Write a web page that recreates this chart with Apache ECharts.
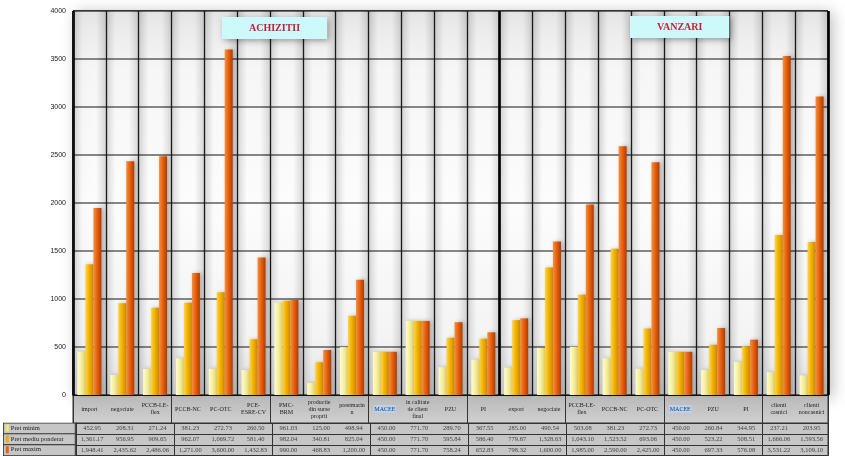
<!DOCTYPE html>
<html><head><meta charset="utf-8">
<script src="https://cdn.jsdelivr.net/npm/echarts@6/dist/echarts.min.js"></script>
<style>html,body{margin:0;padding:0;background:#fff}#c{width:845px;height:456px}</style>
</head><body><div id="c"></div>
<script>
var categories = ["import","negociate","PCCB-LE-\nflex","PCCB-NC","PC-OTC","PCE-\nESRE-CV","PMC-\nBRM","productie\ndin surse\nproprii","prestmarin\nn","MACEE","in calitate\nde client\nfinal","PZU","PI",
  "export","negociate","PCCB-LE-\nflex","PCCB-NC","PC-OTC","MACEE","PZU","PI","clienti\ncasnici","clienti\nnoncasnici"];
var seriesNames = ["Pret minim","Pret mediu ponderat","Pret maxim"];
var pretMinim = [452.95,208.31,271.24,381.23,272.73,260.50,961.03,125.00,498.94,450.00,771.70,289.70,367.55,
  285.00,490.54,503.08,381.23,272.73,450.00,260.84,344.95,237.21,203.95];
var pretMediu = [1361.17,956.95,909.65,962.07,1069.72,581.40,982.04,340.81,825.04,450.00,771.70,595.84,586.40,
  779.87,1328.63,1043.10,1523.52,693.06,450.00,523.22,508.51,1666.06,1593.56];
var pretMaxim = [1948.41,2435.62,2486.06,1271.00,3600.00,1432.83,990.00,468.83,1200.00,450.00,771.70,758.24,652.83,
  798.32,1600.00,1985.00,2590.00,2425.00,450.00,697.33,576.08,3531.22,3109.10];
var sectionTitles = ["ACHIZITII","VANZARI"];
var achizitiiCount = 13;

var allSeries = [pretMinim, pretMediu, pretMaxim];
var swatch = ["#f2ea70","#eab000","#e4620c"];
var barGrad = [
  ["#fffbd2","#f6f0a0","#e2d470"],
  ["#ffd548","#f2b200","#cf8a00"],
  ["#f59040","#e8620e","#b03a00"]
];
function fmt(v){return v.toLocaleString('en-US',{minimumFractionDigits:2,maximumFractionDigits:2});}
function lg(c){return {type:'linear',x:0,y:0,x2:1,y2:0,colorStops:[{offset:0,color:c[0]},{offset:0.45,color:c[1]},{offset:1,color:c[2]}]};}

var serif = "'Liberation Serif','DejaVu Serif',serif";
var L = 73, R = 17;

var chart = echarts.init(document.getElementById('c'));
var series = [];
allSeries.forEach(function(arr, k){
  series.push({
    name: seriesNames[k], type:'bar', xAxisIndex:0, yAxisIndex:0,
    data: arr, barWidth:8, barGap:'0%',
    itemStyle:{color: lg(barGrad[k]), shadowBlur:4, shadowColor:'rgba(0,0,0,0.25)', shadowOffsetX:2},
    z:3
  });
});
var tableData = [];
allSeries.forEach(function(arr, r){
  arr.forEach(function(v, i){ tableData.push([i, r, v]); });
});
series.push({
  type:'scatter', xAxisIndex:2, yAxisIndex:1, data: tableData,
  symbol:'rect', symbolSize:1, itemStyle:{color:'rgba(0,0,0,0)'}, silent:true,
  label:{show:true, position:'inside', fontFamily:serif, fontSize:6.5, color:'#222',
    formatter:function(p){return fmt(p.value[2]);}}
});

var rich = {
  a:{width:3,height:7,backgroundColor:swatch[0]},
  b:{width:3,height:7,backgroundColor:swatch[1]},
  c:{width:3,height:7,backgroundColor:swatch[2]},
  t:{fontFamily:serif,fontSize:6.5,color:'#222',padding:[0,0,0,2]}
};
var keys = ['a','b','c'];

var option = {
  animation:false,
  backgroundColor:'#ffffff',
  title: [
    {text:sectionTitles[0], left:222, top:17, padding:[6,27,6,27], backgroundColor:'#cdf9fb',
     shadowBlur:6, shadowColor:'rgba(0,0,0,0.35)', shadowOffsetX:2, shadowOffsetY:2,
     textStyle:{fontFamily:serif, fontSize:10, fontWeight:'bold', color:'#c4203c'}},
    {text:sectionTitles[1], left:630, top:16, padding:[6,27,6,27], backgroundColor:'#cdf9fb',
     shadowBlur:6, shadowColor:'rgba(0,0,0,0.35)', shadowOffsetX:2, shadowOffsetY:2,
     textStyle:{fontFamily:serif, fontSize:10, fontWeight:'bold', color:'#c4203c'}}
  ],
  grid: [
    {left:L, right:R, top:11, height:384, show:true, borderColor:'#111', borderWidth:1,
     shadowBlur:14, shadowColor:'rgba(0,0,0,0.25)', shadowOffsetX:4, shadowOffsetY:2,
     backgroundColor:{type:'linear',x:0,y:0,x2:0,y2:1,colorStops:[
       {offset:0,color:'#dcdcdc'},{offset:0.15,color:'#f2f2f2'},{offset:0.5,color:'#fbfbfb'},{offset:0.85,color:'#efefef'},{offset:1,color:'#d6d6d6'}]}},
    {left:L, right:R, top:423, height:33, show:true, borderColor:'#333', borderWidth:1,
     backgroundColor:'#c6c6c6'},
    {left:L, right:R, top:395, height:28, show:true, borderColor:'#333', borderWidth:1,
     backgroundColor:{type:'linear',x:0,y:0,x2:0,y2:1,colorStops:[{offset:0,color:'#b8b8b8'},{offset:1,color:'#d0d0d0'}]}}
  ],
  xAxis: [
    {type:'category', gridIndex:0, data:categories,
     axisLine:{show:true, lineStyle:{color:'#111', width:1.2}}, axisTick:{show:false},
     splitLine:{show:true, lineStyle:{color:'#1a1a1a', width:1.3}},
     splitArea:{show:true, areaStyle:{color:[{type:'linear',x:0,y:0,x2:1,y2:0,colorStops:[
        {offset:0,color:'rgba(150,150,150,0.4)'},{offset:0.3,color:'rgba(255,255,255,0.3)'},
        {offset:0.7,color:'rgba(255,255,255,0.3)'},{offset:1,color:'rgba(150,150,150,0.35)'}]}]}},
     axisLabel:{show:true, interval:0, margin:14, verticalAlign:'middle', fontFamily:serif, fontSize:6, lineHeight:7, color:'#222',
       formatter:function(v){return v==='MACEE' ? '{m|MACEE}' : v;},
       rich:{m:{fontFamily:serif,fontSize:6,color:'#1c3c8c',backgroundColor:'#bcd2e6',padding:[1,1]}}}},
    {type:'value', gridIndex:0, min:0, max:categories.length, interval:achizitiiCount,
     axisLine:{show:false}, axisTick:{show:false}, axisLabel:{show:false},
     splitLine:{show:true, lineStyle:{color:'#000', width:2.6}}},
    {type:'category', gridIndex:1, data:categories,
     axisLine:{show:true, lineStyle:{color:'#333'}}, axisTick:{show:false}, axisLabel:{show:false},
     splitLine:{show:true, lineStyle:{color:'#333', width:1}}},
    {type:'category', gridIndex:2, data:categories,
     axisLine:{show:false}, axisTick:{show:false}, axisLabel:{show:false},
     splitLine:{show:true, lineStyle:{color:'#333', width:1}}}
  ],
  yAxis: [
    {type:'value', gridIndex:0, min:0, max:4000, interval:500,
     axisLine:{show:true, lineStyle:{color:'#111', width:1.2}}, axisTick:{show:false},
     splitLine:{show:true, lineStyle:{color:'#1a1a1a', width:1.5}},
     axisLabel:{margin:7, fontFamily:"'Liberation Sans Narrow','Liberation Sans',Arial,sans-serif", fontSize:7, color:'#222',
       formatter:function(v){return String(v);}}},
    {type:'category', gridIndex:1, data:seriesNames, inverse:true,
     axisLine:{show:true, lineStyle:{color:'#333'}}, axisTick:{show:false},
     splitLine:{show:true, lineStyle:{color:'#333', width:1}},
     axisLabel:{interval:0, hideOverlap:false, align:'left', margin:72, width:67, height:9, padding:[1,2,0,2], backgroundColor:'#c6c6c6',
       borderColor:'#333', borderWidth:0.8, verticalAlign:'middle',
       formatter:function(v, i){return '{'+keys[i]+'|}{t|'+v+'}';}, rich:rich}},
    {type:'value', gridIndex:2, min:0, max:1, show:false}
  ],
  series: series
};
chart.setOption(option);
</script></body></html>
